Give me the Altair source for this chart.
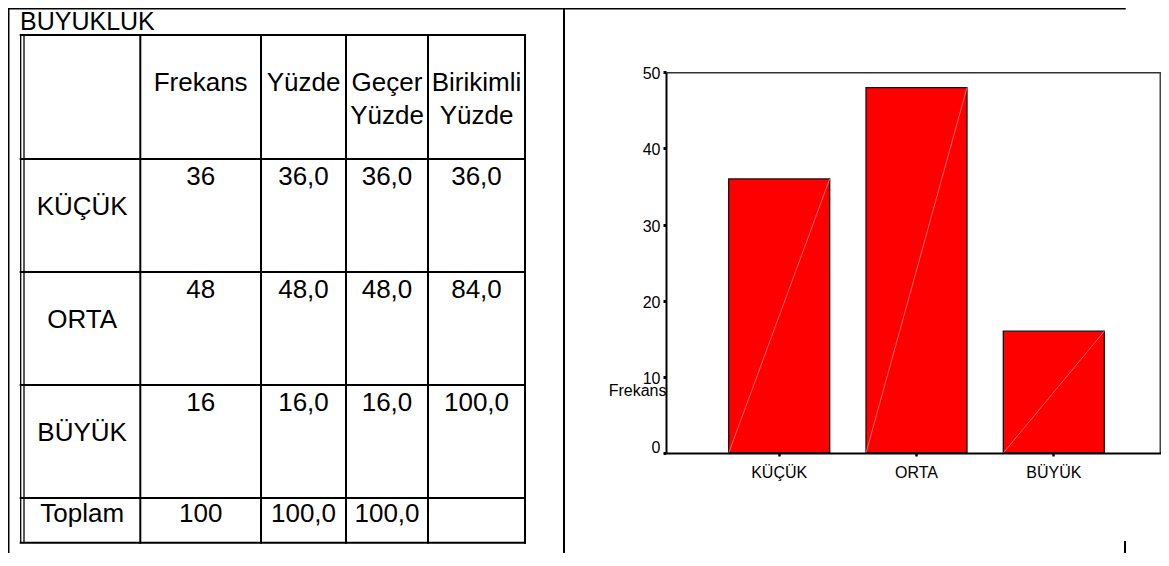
import altair as alt
import pandas as pd

# ---------------- data ----------------
table_title = "BUYUKLUK"
header_lines = [["Frekans"], ["Yüzde"], ["Geçer", "Yüzde"], ["Birikimli", "Yüzde"]]
categories = ["KÜÇÜK", "ORTA", "BÜYÜK"]
frekans = [36, 48, 16]
yuzde = [36.0, 48.0, 16.0]
gecer_yuzde = [36.0, 48.0, 16.0]
birikimli_yuzde = [36.0, 84.0, 100.0]
total_label = "Toplam"
total_values = [100, 100.0, 100.0]  # Frekans, Yüzde, Geçer Yüzde
y_ticks = [0, 10, 20, 30, 40, 50]
y_axis_title = "Frekans"

# ---------------- layout ----------------
W, H = 1153, 545
FONT = "Liberation Sans"
TFS = 26  # table font size
CFS = 16  # chart font size


def pct(v):
    return f"{v:.1f}".replace(".", ",")


# table grid (page layout)
col_edges = [16, 132.3, 253, 338, 420, 517]
row_edges = [27, 151, 264, 377, 490, 534.7]
outer_left = 12.7
centers = [(col_edges[i] + col_edges[i + 1]) / 2 for i in range(len(col_edges) - 1)]

rules = []
# outer document frame
rules.append(dict(x=0.75, x2=0.75, y=0, y2=H, w=1.5))
rules.append(dict(x=0, x2=1117, y=0.75, y2=0.75, w=1.5))
rules.append(dict(x=556, x2=556, y=0, y2=H, w=2))
rules.append(dict(x=1117, x2=1117, y=534, y2=H, w=2))
# table frame
rules.append(dict(x=outer_left, x2=outer_left, y=row_edges[0], y2=row_edges[-1], w=1.3))
rules.append(dict(x=col_edges[0], x2=col_edges[0], y=row_edges[0], y2=row_edges[-1], w=1.3))
for cx in col_edges[1:]:
    rules.append(dict(x=cx, x2=cx, y=row_edges[0], y2=row_edges[-1], w=2))
for ry in row_edges:
    rules.append(dict(x=outer_left, x2=col_edges[-1], y=ry, y2=ry, w=2))
rules_df = pd.DataFrame(rules)

# table texts
texts = []
header_base = [82.7, 116]
for ci, lines in enumerate(header_lines):
    for li, line in enumerate(lines):
        texts.append(dict(x=centers[ci + 1], y=header_base[li], t=line))
for ri, cat in enumerate(categories):
    top = row_edges[ri + 1]
    texts.append(dict(x=centers[0], y=top + 56, t=cat))
    vals = [str(frekans[ri]), pct(yuzde[ri]), pct(gecer_yuzde[ri]), pct(birikimli_yuzde[ri])]
    for vi, v in enumerate(vals):
        texts.append(dict(x=centers[vi + 1], y=top + 26, t=v))
tot_base = 513.7
texts.append(dict(x=centers[0], y=tot_base, t=total_label))
tot_strs = [str(total_values[0]), pct(total_values[1]), pct(total_values[2])]
for vi, v in enumerate(tot_strs):
    texts.append(dict(x=centers[vi + 1], y=tot_base, t=v))
texts_df = pd.DataFrame(texts)
title_df = pd.DataFrame([dict(x=12, y=22, t=table_title)])

xs = alt.Scale(domain=[0, W], range=[0, W], nice=False, zero=False)
ys = alt.Scale(domain=[0, H], range=[0, H], nice=False, zero=False)

rule_layer = alt.Chart(rules_df).mark_rule(color="black", strokeCap="square").encode(
    x=alt.X("x:Q", scale=xs, axis=None),
    x2="x2:Q",
    y=alt.Y("y:Q", scale=ys, axis=None),
    y2="y2:Q",
    strokeWidth=alt.StrokeWidth("w:Q", scale=None),
)
text_layer = alt.Chart(texts_df).mark_text(
    font=FONT, fontSize=TFS, color="black", align="center", baseline="alphabetic"
).encode(
    x=alt.X("x:Q", scale=xs, axis=None),
    y=alt.Y("y:Q", scale=ys, axis=None),
    text="t:N",
)
title_layer = alt.Chart(title_df).mark_text(
    font=FONT, fontSize=25, color="black", align="left", baseline="alphabetic"
).encode(
    x=alt.X("x:Q", scale=xs, axis=None),
    y=alt.Y("y:Q", scale=ys, axis=None),
    text="t:N",
)

# ---------------- bar chart ----------------
x_range = [658, 1159]
y_range = [445, 64.3]
p_in, p_out = 0.2644, 0.4566
n_cat = len(categories)
span_units = n_cat - p_in + 2 * p_out  # band-scale length in step units

xscale = alt.Scale(domain=categories, range=x_range, paddingInner=p_in, paddingOuter=p_out)
yscale = alt.Scale(domain=[0, 50], range=y_range, nice=False, zero=True)

bar_df = pd.DataFrame({"cat": categories, "freq": frekans})
bars = alt.Chart(bar_df).mark_bar(color="#ff0000", stroke="#111111", strokeWidth=1.3).encode(
    x=alt.X(
        "cat:N",
        sort=categories,
        scale=xscale,
        axis=alt.Axis(
            orient="bottom", offset=-(H - y_range[0]), title=None, labelAngle=0,
            labelFont=FONT, labelFontSize=CFS, labelColor="black",
            labelBaseline="alphabetic", labelPadding=21,
            tickSize=3, tickWidth=2.5, tickColor="black",
            domainColor="black", domainWidth=2, grid=False, zindex=1,
        ),
    ),
    y=alt.Y(
        "freq:Q",
        scale=yscale,
        axis=alt.Axis(
            orient="left", offset=-x_range[0], values=y_ticks, grid=False,
            labelFont=FONT, labelFontSize=CFS, labelColor="black", labelPadding=3,
            labelBaseline="middle",
            labelOffset={"condition": {"test": "datum.value === 0", "value": -6}, "value": 1.5},
            tickSize=3, tickWidth=3, tickColor="black",
            domainColor="black", domainWidth=2, zindex=1,
            title=y_axis_title, titleAngle=0, titleAlign="right", titleBaseline="alphabetic",
            titleX=0, titleY=387, titleFont=FONT, titleFontSize=CFS,
            titleFontWeight="normal", titleColor="black",
        ),
    ),
)

# faint diagonal seam inside each bar (bottom-left to top-right), in band-step units
seam_rows = []
for i, (c, v) in enumerate(zip(categories, frekans)):
    seam_rows.append({"cat": c, "u": p_out + i, "v": 0})
    seam_rows.append({"cat": c, "u": p_out + i + (1 - p_in), "v": v})
seam = alt.Chart(pd.DataFrame(seam_rows)).mark_line(color="#ff8080", strokeWidth=0.8).encode(
    x=alt.X(
        "u:Q",
        scale=alt.Scale(domain=[0, span_units], range=x_range, nice=False, zero=False),
        axis=alt.Axis(orient="top", offset=-y_range[1], labels=False, ticks=False,
                      title=None, grid=False, domainColor="#333333", domainWidth=1.5),
    ),
    y=alt.Y(
        "v:Q", scale=yscale,
        axis=alt.Axis(orient="right", offset=-1, labels=False, ticks=False,
                      title=None, grid=False, domainColor="#444444", domainWidth=2),
    ),
    detail="cat:N",
)

bar_chart = (
    alt.layer(bars, seam)
    .resolve_scale(x="independent")
    .resolve_axis(x="independent", y="independent")
)

chart = (
    alt.layer(rule_layer, text_layer, title_layer, bar_chart)
    .resolve_scale(x="independent", y="independent")
    .properties(width=W, height=H, autosize=alt.AutoSizeParams(type="none"), padding=0,
                background="white")
    .configure_view(stroke=None)
)

chart.save("out.html", embed_options={"renderer": "svg", "actions": False})
